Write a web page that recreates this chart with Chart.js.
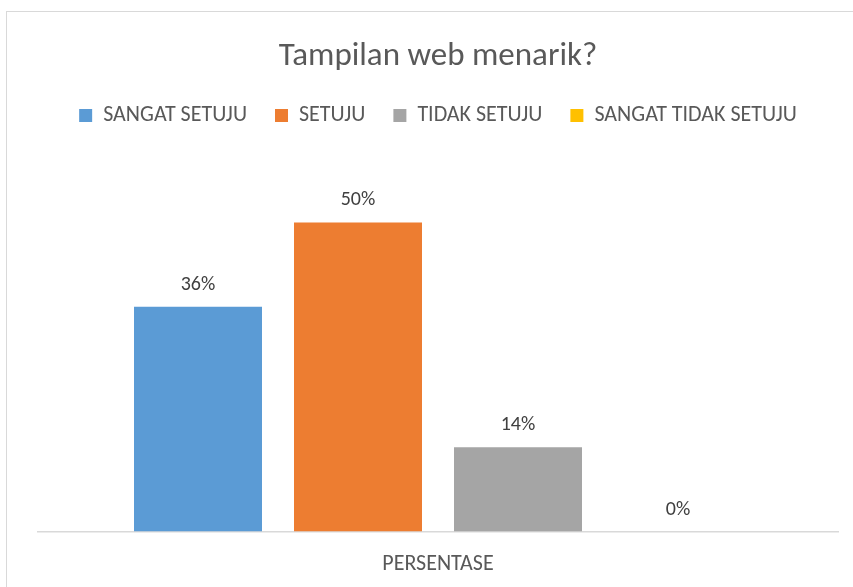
<!DOCTYPE html>
<html>
<head>
<meta charset="utf-8">
<script src="https://cdn.jsdelivr.net/npm/chart.js@4.4.1/dist/chart.umd.min.js"></script>
<style>
  html, body { margin: 0; padding: 0; background: #fff; overflow: hidden; }
  #bingkai { position: absolute; left: 6px; top: 11px; width: 900px; height: 700px; border: 1px solid #d9d9d9; }
  #wadah { position: absolute; left: 0; top: 0; width: 853px; height: 600px; }
</style>
</head>
<body>
<div id="bingkai"></div>
<div id="wadah"><canvas id="grafik"></canvas></div>
<script>
  // data grafik
  var kategori = ["PERSENTASE"];
  var namaSeri = ["SANGAT SETUJU", "SETUJU", "TIDAK SETUJU", "SANGAT TIDAK SETUJU"];
  var nilaiSeri = [36.36, 50, 13.64, 0];
  var warnaSeri = ["#5B9BD5", "#ED7D31", "#A5A5A5", "#FFC000"];
  var judul = "Tampilan web menarik?";

  var hurufDasar = "Calibri, Carlito, Lato, 'Open Sans', sans-serif";

  var datasetList = [];
  for (var i = 0; i < namaSeri.length; i++) {
    datasetList.push({
      label: namaSeri[i],
      data: [nilaiSeri[i]],
      backgroundColor: warnaSeri[i],
      borderWidth: 0,
      categoryPercentage: 0.8,
      barPercentage: 0.8
    });
  }

  /*LABEL DATA DI ATAS BATANG*/
  var labelData = {
    id: "labelData",
    afterDatasetsDraw: function (chart) {
      var ctx = chart.ctx;
      ctx.save();
      ctx.font = "20px " + hurufDasar;
      ctx.fillStyle = "#404040";
      ctx.textAlign = "center";
      ctx.textBaseline = "middle";
      chart.data.datasets.forEach(function (ds, i) {
        var bar = chart.getDatasetMeta(i).data[0];
        ctx.fillText(Math.round(ds.data[0]) + "%", bar.x, bar.y - 22);
      });
      ctx.restore();
    }
  };

  /*JARAK TAMBAHAN DI BAWAH LEGENDA*/
  var jarakLegenda = {
    id: "jarakLegenda",
    beforeInit: function (chart) {
      var fitAsli = chart.legend.fit;
      chart.legend.fit = function () {
        fitAsli.bind(chart.legend)();
        this.height += 24;
      };
    }
  };

  var ctx = document.getElementById("grafik");
  var myChart = new Chart(ctx, {
    type: "bar",
    data: {
      labels: kategori,
      datasets: datasetList
    },
    options: {
      responsive: true,
      maintainAspectRatio: false,
      animation: false,
      layout: { padding: { left: 38, right: 15, top: 0, bottom: 2 } },
      plugins: {
        title: {
          display: true,
          text: judul,
          color: "#595959",
          font: { family: hurufDasar, size: 33, weight: "normal" },
          padding: { top: 37, bottom: 0 }
        },
        legend: {
          display: true,
          position: "top",
          labels: {
            color: "#595959",
            font: { family: hurufDasar, size: 22 },
            boxWidth: 13,
            boxHeight: 13,
            padding: 28
          }
        },
        tooltip: { enabled: false }
      },
      scales: {
        x: {
          grid: { display: false, drawTicks: false },
          border: { display: true, color: "#d9d9d9", width: 1.5 },
          ticks: { color: "#595959", font: { family: hurufDasar, size: 22 }, padding: 20 }
        },
        y: {
          display: false,
          min: 0,
          max: 60
        }
      }
    },
    plugins: [labelData, jarakLegenda]
  });
</script>
</body>
</html>
